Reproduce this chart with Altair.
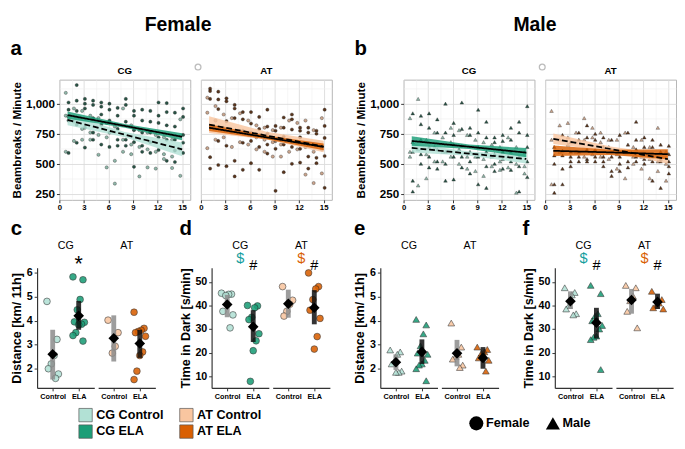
import altair as alt
import pandas as pd

FONT = "Liberation Sans"
DAYS = list(range(1, 16))
FIT_X = [1, 8, 15]
COND_ORDER = ["CG Control", "AT Control", "CG ELA", "AT ELA"]
FILL_COLORS = ["#b2e1d5", "#f9c6a0", "#1b9e77", "#d95f02"]
POINT_COLORS = ["#8ab5a6", "#c9a187", "#1d4b3c", "#522b10"]
SEX_ORDER = ["Female", "Male"]
SEX_SHAPES = ["circle", "triangle-up"]

# ---------- panel a (Female) beambreaks per day ----------
F_CG_ELA = [[1010, 950, 890, 860, 590], [1155, 1025, 940, 825, 675], [1040, 1000, 960, 800, 635],
            [1025, 990, 880, 760, 700], [1010, 975, 910, 825, 660], [1000, 950, 860, 760, 640],
            [965, 900, 790, 700, 650], [1040, 990, 850, 700, 650], [940, 900, 780, 680, 475],
            [950, 860, 760, 650, 600], [940, 850, 760, 680, 590], [1010, 900, 840, 720, 615],
            [1005, 930, 820, 700, 525], [925, 810, 700, 610, 515], [960, 890, 740, 675, 590]]
F_CG_CON = [[1090, 900, 600], [960, 850, 690], [940, 790, 700], [900, 760, 700], [880, 740, 575],
            [840, 720, 470], [810, 525, 335], [960, 700, 600], [820, 660, 580], [780, 640, 395],
            [760, 620, 470], [740, 600, 460], [720, 580, 540], [700, 560, 465], [870, 620, 400]]
F_AT_ELA = [[1125, 1105, 1040, 555, 460], [1100, 1035, 955, 690, 490], [1045, 1020, 855, 650, 480],
            [990, 960, 880, 525, 395], [930, 870, 775, 675, 450], [930, 835, 760, 690, 505],
            [890, 790, 740, 640, 450], [950, 810, 750, 660, 585], [815, 775, 690, 625, 275],
            [885, 800, 725, 660, 430], [910, 870, 785, 640, 500], [800, 775, 720, 625, 510],
            [800, 760, 660, 560, 460], [775, 750, 650, 550, 505], [950, 815, 715, 565, 300]]
F_AT_CON = [[1050, 925, 630], [980, 860, 700], [910, 800, 720], [880, 760, 640], [920, 770, 680],
            [860, 740, 660], [820, 720, 620], [800, 700, 600], [780, 680, 560], [800, 660, 560],
            [860, 700, 600], [840, 680, 620], [860, 640, 410], [780, 600, 340], [880, 620, 420]]
F_CG_ELA_FIT, F_CG_ELA_HW = [905, 815, 725], [30, 15, 30]
F_CG_CON_FIT, F_CG_CON_HW = [865, 742, 620], [45, 22, 58]
F_AT_ELA_FIT, F_AT_ELA_HW = [800, 720, 640], [28, 15, 28]
F_AT_CON_FIT, F_AT_CON_HW = [826, 735, 644], [70, 32, 48]

# ---------- panel b (Male) beambreaks per day ----------
M_CG_ELA = [[920, 680, 600, 360, 270], [900, 830, 700, 580, 500], [920, 800, 640, 560, 470],
            [870, 760, 620, 520, 460], [1000, 760, 600, 360, 500], [840, 740, 660, 560, 370],
            [1010, 790, 650, 560, 470], [800, 740, 600, 520, 420], [950, 760, 640, 560, 330],
            [850, 720, 600, 480, 300], [720, 680, 580, 500, 440], [740, 690, 600, 540, 460],
            [800, 700, 600, 520, 450], [850, 760, 560, 480, 270], [980, 740, 640, 520, 390]]
M_CG_CON = [[880, 600, 560], [1040, 620, 320], [700, 580, 380], [760, 640, 520], [720, 600, 520],
            [800, 680, 560], [780, 620, 500], [740, 560, 460], [700, 560, 440], [680, 540, 400],
            [660, 560, 480], [640, 520, 450], [720, 560, 470], [640, 500, 260], [600, 480, 420]]
M_AT_ELA = [[640, 570, 500, 330, 260], [740, 610, 570, 460, 330], [680, 600, 560, 520, 480],
            [760, 700, 600, 560, 520], [820, 720, 620, 540, 520], [750, 700, 620, 560, 520],
            [720, 640, 560, 520, 480], [700, 620, 560, 440, 400], [740, 600, 560, 500, 440],
            [760, 660, 600, 520, 470], [850, 700, 620, 560, 520], [720, 640, 580, 540, 500],
            [700, 640, 560, 520, 360], [660, 600, 540, 520, 300], [650, 580, 520, 480, 420]]
M_AT_CON = [[940, 700, 330], [820, 700, 600], [840, 720, 660], [760, 680, 600], [880, 700, 560],
            [800, 720, 580], [760, 680, 560], [700, 640, 540], [700, 580, 460], [760, 600, 380],
            [640, 560, 500], [700, 560, 460], [640, 540, 380], [800, 520, 440], [600, 500, 360]]
M_CG_ELA_FIT, M_CG_ELA_HW = [690, 642, 593], [40, 18, 38]
M_CG_CON_FIT, M_CG_CON_HW = [632, 585, 540], [37, 18, 37]
M_AT_ELA_FIT, M_AT_ELA_HW = [608, 595, 580], [44, 22, 42]
M_AT_CON_FIT, M_AT_CON_HW = [708, 623, 538], [44, 20, 38]

# ---------- panels c-f ----------
C_CG_CON = [4.8, 3.22, 2.55, 2.2, 2.0, 1.78, 1.6]
C_CG_ELA = [5.82, 5.7, 4.88, 4.45, 3.95, 3.93, 3.85, 3.83, 3.5, 3.38, 3.15]
C_CG_MEAN, C_CG_LO, C_CG_HI = [2.6, 4.2], [1.55, 3.62], [3.62, 4.82]
C_AT_CON = [4.02, 3.5, 2.93, 2.65]
C_AT_ELA = [4.35, 3.68, 3.6, 3.55, 3.5, 3.35, 2.7, 2.55, 1.9, 1.55]
C_AT_MEAN, C_AT_LO, C_AT_HI = [3.27, 3.05], [2.3, 2.45], [4.22, 3.62]

D_CG_CON = [45.2, 44.8, 44.7, 44.2, 37.5, 36.0, 30.5]
D_CG_ELA = [40.0, 39.8, 39.0, 35.0, 34.0, 28.0, 25.0, 20.8, 7.8]
D_CG_MEAN, D_CG_LO, D_CG_HI = [40.4, 31.0], [35.0, 24.5], [44.5, 38.0]
D_AT_CON = [48.0, 42.2, 40.5, 37.5, 35.5]
D_AT_ELA = [53.8, 48.0, 47.0, 42.5, 38.0, 34.5, 26.8, 21.5]
D_AT_MEAN, D_AT_LO, D_AT_HI = [40.7, 39.0], [34.8, 32.0], [46.7, 46.5]

E_CG_CON = [2.78, 2.7, 2.6, 2.3, 2.2, 1.9, 1.85, 1.85]
E_CG_ELA = [4.05, 3.82, 3.45, 2.95, 2.65, 2.6, 2.35, 2.2, 2.15, 2.0, 1.5]
E_CG_MEAN, E_CG_LO, E_CG_HI = [2.27, 2.7], [1.95, 2.2], [2.6, 3.22]
E_AT_CON = [3.9, 2.9, 2.6, 2.5, 2.4, 2.15, 2.05]
E_AT_ELA = [2.9, 2.8, 2.7, 2.65, 2.45, 2.35, 1.9]
E_AT_MEAN, E_AT_LO, E_AT_HI = [2.64, 2.45], [2.1, 2.0], [3.2, 2.9]

F_CG_CON_T = [47.5, 45.5, 44.5, 40.0, 38.5, 36.5, 36.0]
F_CG_ELA_T = [48.5, 45.0, 36.5, 35.5, 33.5, 31.5, 30.0, 27.0, 26.5, 25.5, 12.8]
F_CG_MEAN, F_CG_LO, F_CG_HI = [41.8, 32.7], [38.5, 26.0], [46.0, 39.0]
F_AT_CON_T = [48.5, 47.5, 44.0, 42.0, 37.5, 30.5]
F_AT_ELA_T = [46.0, 42.5, 41.0, 40.0, 39.0, 38.5]
F_AT_MEAN, F_AT_LO, F_AT_HI = [42.3, 41.5], [36.5, 38.5], [47.0, 45.0]

DIST_TICKS = [2, 3, 4, 5, 6]
TIME_TICKS = [10, 20, 30, 40, 50]

# ---------- helpers ----------
TW, TH = 135, 124   # top panel plot size
BW, BH = 59, 124    # bottom sub-panel plot size
XV_TOP = [0, 1.5, 3, 4.5, 6, 7.5, 9, 10.5, 12, 13.5, 15]
YV_TOP = [250, 375, 500, 625, 750, 875, 1000, 1125]
ONE = pd.DataFrame({"k": [0]})


def cond_val(test, a, b):
    return {"condition": {"test": test, "value": a}, "value": b}


def spacer(w, h=1):
    return alt.Chart(ONE).mark_point(opacity=0, size=1).encode(
        x=alt.value(0), y=alt.value(0)).properties(width=w, height=h)


FILL_SCALE = alt.Scale(domain=COND_ORDER, range=FILL_COLORS)
PT_SCALE = alt.Scale(domain=COND_ORDER, range=POINT_COLORS)
SHAPE_SCALE = alt.Scale(domain=SEX_ORDER, range=SEX_SHAPES)


def top_axes(show_y):
    xax = alt.Axis(values=XV_TOP, labelExpr="datum.value % 3 === 0 ? datum.label : ''",
                   grid=True, gridColor=cond_val("datum.value % 3 === 0", "#dadada", "#efefef"),
                   gridWidth=cond_val("datum.value % 3 === 0", 0.9, 0.6), domain=False,
                   tickColor=cond_val("datum.value % 3 === 0", "#333333", "transparent"),
                   tickSize=3, labelFont=FONT, labelFontSize=8, labelFontWeight="bold",
                   labelColor="black", labelPadding=1, labelFlush=False, labelOverlap=False,
                   title=None)
    if show_y:
        yax = alt.Axis(values=YV_TOP,
                       labelExpr="datum.value % 250 === 0 ? format(datum.value, ',') : ''",
                       grid=True, gridColor=cond_val("datum.value % 250 === 0", "#dadada", "#efefef"),
                       gridWidth=cond_val("datum.value % 250 === 0", 0.9, 0.6), domain=False,
                       tickColor=cond_val("datum.value % 250 === 0", "#333333", "transparent"),
                       tickSize=3, labelFont=FONT, labelFontSize=12, labelFontWeight="bold",
                       labelColor="black", labelPadding=2, labelFlush=False, labelOverlap=False,
                       title="Beambreaks / Minute", titleFont=FONT, titleFontSize=12,
                       titleFontWeight="bold", titleColor="black", titlePadding=2)
    else:
        yax = alt.Axis(values=YV_TOP, labels=False, ticks=False, domain=False, title=None,
                       grid=True, gridColor=cond_val("datum.value % 250 === 0", "#dadada", "#efefef"),
                       gridWidth=cond_val("datum.value % 250 === 0", 0.9, 0.6))
    return xax, yax


def top_panel(sex, panel, ela, con, ela_fit, ela_hw, con_fit, con_hw, show_y):
    rows = []
    for d, vals in zip(DAYS, con):
        for v in vals:
            rows.append({"day": d - 0.22, "bb": v, "cond": panel + " Control"})
    for d, vals in zip(DAYS, ela):
        for v in vals:
            rows.append({"day": d + 0.12, "bb": v, "cond": panel + " ELA"})
    pts = pd.DataFrame(rows)
    frows = []
    for grp, fit, hw in [("Control", con_fit, con_hw), ("ELA", ela_fit, ela_hw)]:
        for x, f, h in zip(FIT_X, fit, hw):
            frows.append({"day": x, "bb": f, "lo": f - h, "hi": f + h,
                          "cond": f"{panel} {grp}", "grp": grp})
    fits = pd.DataFrame(frows)
    xax, yax = top_axes(show_y)
    xs = alt.Scale(domain=[0, 16], nice=False, zero=False)
    ys = alt.Scale(domain=[200, 1200], nice=False, zero=False)
    X = alt.X("day:Q", scale=xs, axis=xax, title=None)
    shape = "circle" if sex == "Female" else "triangle-up"
    size = 11 if sex == "Female" else 14
    p = alt.Chart(pts).mark_point(shape=shape, filled=True, size=size, stroke="#1a1a1a",
                                  strokeWidth=0.35, opacity=0.95).encode(
        x=X, y=alt.Y("bb:Q", scale=ys, axis=yax, title=None),
        color=alt.Color("cond:N", scale=PT_SCALE, legend=None))
    band = alt.Chart(fits).mark_area(opacity=0.82).encode(
        x=X, y=alt.Y("lo:Q", scale=ys, axis=yax, title=None), y2="hi:Q",
        fill=alt.Fill("cond:N", scale=FILL_SCALE, legend=None))
    line = alt.Chart(fits).mark_line(color="black", strokeWidth=1.8).encode(
        x=X, y=alt.Y("bb:Q", scale=ys, axis=yax, title=None),
        strokeDash=alt.StrokeDash("grp:N", scale=alt.Scale(domain=["Control", "ELA"],
                                                           range=[[6, 3], [1, 0]]), legend=None))
    ttl = alt.Chart(ONE).mark_text(text=panel, font=FONT, fontSize=10, fontWeight="bold",
                                   color="black", baseline="middle").encode(
        x=alt.value(TW / 2), y=alt.value(-9))
    layers = [p, band, line, ttl]
    if panel == "AT":
        ring = alt.Chart(ONE).mark_point(
            shape="circle", filled=False, stroke="#a0a0a0", strokeWidth=1.3, size=36).encode(
            x=alt.value(-3), y=alt.value(-13))
        layers.append(ring)
    return alt.layer(*layers).properties(
        width=TW, height=TH, view=alt.ViewBackground(stroke="#b5b5b5", strokeWidth=1))


def jit(i):
    return ((i * 7) % 9 - 4) * 0.055


def bottom_sub(panel, sex, con, ela, means, los, his, ydom, yticks, ytitle, show_y, annots):
    rows = []
    for gi, (grp, vals) in enumerate([("Control", con), ("ELA", ela)]):
        for i, v in enumerate(vals):
            rows.append({"xj": gi + jit(i), "val": v, "cond": f"{panel} {grp}", "sex": sex})
    pts = pd.DataFrame(rows)
    summ = pd.DataFrame({"xp": [0, 1], "grp": ["Control", "ELA"], "m": means, "lo": los, "hi": his})
    xs = alt.Scale(domain=[-0.6, 1.6], nice=False, zero=False)
    ys = alt.Scale(domain=ydom, nice=False, zero=False)
    xax = alt.Axis(values=[0, 1], labelExpr="datum.value === 0 ? 'Control' : 'ELA'", grid=False,
                   domainColor="#333333", domainWidth=1.2, tickColor="#333333", tickSize=3,
                   labelFont=FONT, labelFontSize=7.5, labelFontWeight="bold", labelColor="black",
                   labelPadding=2, labelFlush=False, title=None)
    if show_y:
        yax = alt.Axis(values=yticks, grid=False, domainColor="#333333", domainWidth=1.2,
                       tickColor="#333333", tickSize=3, labelFont=FONT, labelFontSize=11,
                       labelFontWeight="bold", labelColor="black", labelPadding=2,
                       labelFlush=False, title=ytitle, titleFont=FONT, titleFontSize=13,
                       titleFontWeight="bold", titleColor="black", titlePadding=3)
    else:
        yax = None
    p = alt.Chart(pts).mark_point(filled=True, size=48, stroke="#222222", strokeWidth=0.6,
                                  opacity=0.88).encode(
        x=alt.X("xj:Q", scale=xs, axis=xax, title=None),
        y=alt.Y("val:Q", scale=ys, axis=yax, title=ytitle if show_y else None),
        fill=alt.Fill("cond:N", scale=FILL_SCALE, legend=None),
        shape=alt.Shape("sex:N", scale=SHAPE_SCALE, legend=None))
    bars = alt.Chart(summ).mark_rule(strokeWidth=5, opacity=0.85).encode(
        x=alt.X("xp:Q", scale=xs, axis=xax, title=None),
        y=alt.Y("lo:Q", scale=ys, axis=yax), y2="hi:Q",
        stroke=alt.Stroke("grp:N", scale=alt.Scale(domain=["Control", "ELA"],
                                                   range=["#8c8c8c", "#111111"]), legend=None))
    dia = alt.Chart(summ).mark_point(shape="diamond", filled=True, color="black", size=120,
                                     opacity=1).encode(
        x=alt.X("xp:Q", scale=xs, axis=xax, title=None),
        y=alt.Y("m:Q", scale=ys, axis=yax))
    layers = [p, bars, dia]
    layers.append(alt.Chart(ONE).mark_text(
        text=panel, font=FONT, fontSize=11, color="black", baseline="middle").encode(
        x=alt.value(BW / 2), y=alt.value(-22)))
    for txt, xpos, ypix, size, col in annots:
        layers.append(alt.Chart(ONE).mark_text(
            text=txt, font=FONT, fontSize=size, color=col, baseline="middle").encode(
            x=alt.X(datum=xpos, scale=xs, axis=xax), y=alt.value(ypix)))
    return alt.layer(*layers).properties(width=BW, height=BH)


def letter(t):
    return alt.TitleParams(t, anchor="start", font=FONT, fontSize=21, fontWeight="bold",
                           color="black", offset=2)


# ---------- assemble ----------
aCG = top_panel("Female", "CG", F_CG_ELA, F_CG_CON, F_CG_ELA_FIT, F_CG_ELA_HW, F_CG_CON_FIT, F_CG_CON_HW, True)
aAT = top_panel("Female", "AT", F_AT_ELA, F_AT_CON, F_AT_ELA_FIT, F_AT_ELA_HW, F_AT_CON_FIT, F_AT_CON_HW, False)
bCG = top_panel("Male", "CG", M_CG_ELA, M_CG_CON, M_CG_ELA_FIT, M_CG_ELA_HW, M_CG_CON_FIT, M_CG_CON_HW, True)
bAT = top_panel("Male", "AT", M_AT_ELA, M_AT_CON, M_AT_ELA_FIT, M_AT_ELA_HW, M_AT_CON_FIT, M_AT_CON_HW, False)

female = alt.vconcat(alt.hconcat(aCG, aAT, spacing=0).properties(title=letter("a")), spacing=0).properties(
    title=alt.TitleParams("Female", anchor="middle", font=FONT, fontSize=20, fontWeight="bold",
                          color="black", offset=4, dx=7))
male = alt.vconcat(alt.hconcat(bCG, bAT, spacing=0).properties(title=letter("b")), spacing=0).properties(
    title=alt.TitleParams("Male", anchor="middle", font=FONT, fontSize=20, fontWeight="bold",
                          color="black", offset=4, dx=20))
top_row = alt.hconcat(spacer(1), alt.hconcat(female, male, spacing=22), spacing=0)

TEAL, ORANGE = "#139e9e", "#d95f02"
DOLLAR_CG = ("$", 0.5, -10, 15, TEAL)
DOLLAR_AT = ("$", 0.5, -10, 15, ORANGE)
HASH = ("#", 1, -3, 15, "black")
STAR = ("*", 1, -4, 22, "black")

cCG = bottom_sub("CG", "Female", C_CG_CON, C_CG_ELA, C_CG_MEAN, C_CG_LO, C_CG_HI, [1.2, 6.2], DIST_TICKS, "Distance [km/ 11h]", True, [STAR])
cAT = bottom_sub("AT", "Female", C_AT_CON, C_AT_ELA, C_AT_MEAN, C_AT_LO, C_AT_HI, [1.2, 6.2], DIST_TICKS, None, False, [])
dCG = bottom_sub("CG", "Female", D_CG_CON, D_CG_ELA, D_CG_MEAN, D_CG_LO, D_CG_HI, [5, 56], TIME_TICKS, "Time in Dark [s/min]", True, [DOLLAR_CG, HASH])
dAT = bottom_sub("AT", "Female", D_AT_CON, D_AT_ELA, D_AT_MEAN, D_AT_LO, D_AT_HI, [5, 56], TIME_TICKS, None, False, [DOLLAR_AT, HASH])
eCG = bottom_sub("CG", "Male", E_CG_CON, E_CG_ELA, E_CG_MEAN, E_CG_LO, E_CG_HI, [1.2, 6.2], DIST_TICKS, "Distance [km/ 11h]", True, [])
eAT = bottom_sub("AT", "Male", E_AT_CON, E_AT_ELA, E_AT_MEAN, E_AT_LO, E_AT_HI, [1.2, 6.2], DIST_TICKS, None, False, [])
fCG = bottom_sub("CG", "Male", F_CG_CON_T, F_CG_ELA_T, F_CG_MEAN, F_CG_LO, F_CG_HI, [5, 56], TIME_TICKS, "Time in Dark [s/min]", True, [DOLLAR_CG, HASH])
fAT = bottom_sub("AT", "Male", F_AT_CON_T, F_AT_ELA_T, F_AT_MEAN, F_AT_LO, F_AT_HI, [5, 56], TIME_TICKS, None, False, [DOLLAR_AT, HASH])

blocks = []
for L, cg, at in [("c", cCG, cAT), ("d", dCG, dAT), ("e", eCG, eAT), ("f", fCG, fAT)]:
    blocks.append(alt.hconcat(cg, at, spacing=4).properties(title=letter(L)))
bottom_row = alt.hconcat(spacer(1), alt.hconcat(*blocks, spacing=24), spacing=0)

# ---------- legend row (drawn from the category lists) ----------
leg_fill_df = pd.DataFrame({"cond": COND_ORDER,
                            "col": [i % 2 for i in range(len(COND_ORDER))],
                            "row": [i // 2 for i in range(len(COND_ORDER))]})
lx = alt.X("col:Q", scale=alt.Scale(domain=[0, 1]), axis=None)
ly = alt.Y("row:Q", scale=alt.Scale(domain=[0, 1], reverse=True), axis=None)
leg_fill = alt.layer(
    alt.Chart(leg_fill_df).mark_square(size=190, stroke="#555555", strokeWidth=0.7, opacity=1).encode(
        x=lx, y=ly, fill=alt.Fill("cond:N", scale=FILL_SCALE, legend=None)),
    alt.Chart(leg_fill_df).mark_text(align="left", dx=11, font=FONT, fontSize=13, fontWeight="bold",
                                     color="black", baseline="middle").encode(x=lx, y=ly, text="cond:N"),
).properties(width=104, height=17)

leg_shape_df = pd.DataFrame({"sex": SEX_ORDER, "col": list(range(len(SEX_ORDER))),
                             "row": [0.5] * len(SEX_ORDER)})
leg_shape = alt.layer(
    alt.Chart(leg_shape_df).mark_point(filled=True, color="black", size=210, opacity=1).encode(
        x=lx, y=ly, shape=alt.Shape("sex:N", scale=SHAPE_SCALE, legend=None)),
    alt.Chart(leg_shape_df).mark_text(align="left", dx=10, font=FONT, fontSize=13, fontWeight="bold",
                                      color="black", baseline="middle").encode(x=lx, y=ly, text="sex:N"),
).properties(width=79, height=17)

legend_row = alt.hconcat(spacer(70, 17), leg_fill, spacer(212, 17), leg_shape,
                         spacing=0).resolve_scale(x="independent", y="independent")

chart = alt.vconcat(top_row, bottom_row, legend_row, spacing=6).properties(
    padding={"left": 0, "top": 0, "right": 0, "bottom": 0}
).configure_view(stroke=None).configure_concat(spacing=0)

chart.save("out.html", embed_options={"renderer": "svg", "actions": False})
